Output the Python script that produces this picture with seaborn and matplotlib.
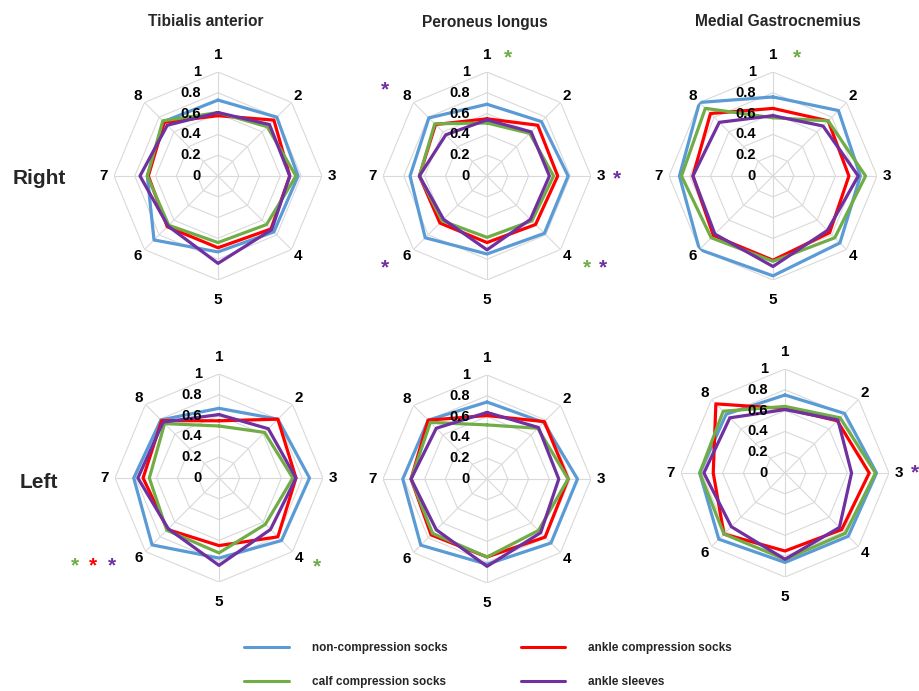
import numpy as np
import pandas as pd
import matplotlib
matplotlib.use("Agg")
import matplotlib.pyplot as plt
import matplotlib.transforms as mtransforms
from matplotlib.lines import Line2D
import seaborn as sns

sns.set_style("white")
plt.rcParams["font.family"] = ["Liberation Sans", "DejaVu Sans"]
plt.rcParams["font.weight"] = "bold"

# ---- data -----------------------------------------------------------------
directions = ["1", "2", "3", "4", "5", "6", "7", "8"]
conditions = ["non-compression socks", "ankle compression socks",
              "calf compression socks", "ankle sleeves"]
condition_colors = ["#5B9BD5", "#FF0000", "#70AD47", "#7030A0"]
muscles = ["Tibialis anterior", "Peroneus longus", "Medial Gastrocnemius"]
sides = ["Right", "Left"]
ring_values = [0.0, 0.2, 0.4, 0.6, 0.8, 1.0]
ring_labels = ["0", "0.2", "0.4", "0.6", "0.8", "1"]

# Tibialis anterior, right leg
ta_right_non = [0.73, 0.80, 0.77, 0.76, 0.73, 0.87, 0.68, 0.74]
ta_right_ankle = [0.58, 0.76, 0.69, 0.72, 0.69, 0.69, 0.67, 0.73]
ta_right_calf = [0.61, 0.67, 0.75, 0.66, 0.64, 0.67, 0.68, 0.75]
ta_right_sleeve = [0.61, 0.70, 0.69, 0.73, 0.84, 0.68, 0.75, 0.69]

# Peroneus longus, right leg
pl_right_non = [0.69, 0.74, 0.78, 0.78, 0.75, 0.84, 0.74, 0.79]
pl_right_ankle = [0.55, 0.69, 0.68, 0.66, 0.64, 0.64, 0.65, 0.70]
pl_right_calf = [0.51, 0.58, 0.64, 0.61, 0.59, 0.61, 0.65, 0.71]
pl_right_sleeve = [0.54, 0.60, 0.60, 0.59, 0.71, 0.59, 0.65, 0.56]

# Medial gastrocnemius, right leg
mg_right_non = [0.76, 0.89, 0.84, 0.91, 0.96, 1.00, 0.90, 1.00]
mg_right_ankle = [0.65, 0.75, 0.73, 0.77, 0.81, 0.81, 0.77, 0.85]
mg_right_calf = [0.56, 0.75, 0.89, 0.84, 0.82, 0.84, 0.88, 0.92]
mg_right_sleeve = [0.58, 0.68, 0.82, 0.74, 0.87, 0.79, 0.77, 0.73]

# Tibialis anterior, left leg
ta_left_non = [0.67, 0.80, 0.87, 0.85, 0.77, 0.91, 0.82, 0.79]
ta_left_ankle = [0.55, 0.80, 0.74, 0.80, 0.65, 0.70, 0.73, 0.78]
ta_left_calf = [0.50, 0.62, 0.71, 0.63, 0.72, 0.71, 0.67, 0.74]
ta_left_sleeve = [0.61, 0.67, 0.74, 0.70, 0.84, 0.69, 0.78, 0.76]

# Peroneus longus, left leg
pl_left_non = [0.74, 0.77, 0.87, 0.87, 0.82, 0.90, 0.81, 0.80]
pl_left_ankle = [0.61, 0.78, 0.78, 0.79, 0.75, 0.76, 0.73, 0.80]
pl_left_calf = [0.52, 0.69, 0.78, 0.70, 0.75, 0.74, 0.73, 0.77]
pl_left_sleeve = [0.64, 0.70, 0.69, 0.73, 0.84, 0.69, 0.73, 0.69]

# Medial gastrocnemius, left leg
mg_left_non = [0.75, 0.81, 0.88, 0.86, 0.86, 0.90, 0.82, 0.80]
mg_left_ankle = [0.62, 0.71, 0.81, 0.77, 0.75, 0.83, 0.69, 0.94]
mg_left_calf = [0.64, 0.75, 0.87, 0.82, 0.83, 0.83, 0.82, 0.84]
mg_left_sleeve = [0.61, 0.72, 0.64, 0.74, 0.83, 0.73, 0.78, 0.75]

panels = {
    ("Right", "Tibialis anterior"): [ta_right_non, ta_right_ankle, ta_right_calf, ta_right_sleeve],
    ("Right", "Peroneus longus"): [pl_right_non, pl_right_ankle, pl_right_calf, pl_right_sleeve],
    ("Right", "Medial Gastrocnemius"): [mg_right_non, mg_right_ankle, mg_right_calf, mg_right_sleeve],
    ("Left", "Tibialis anterior"): [ta_left_non, ta_left_ankle, ta_left_calf, ta_left_sleeve],
    ("Left", "Peroneus longus"): [pl_left_non, pl_left_ankle, pl_left_calf, pl_left_sleeve],
    ("Left", "Medial Gastrocnemius"): [mg_left_non, mg_left_ankle, mg_left_calf, mg_left_sleeve],
}

# significance markers: (x px, y px, condition index)
star_marks = [
    (508, 53, 2), (385, 85, 3), (617, 174, 3), (385, 263, 3),
    (587, 263, 2), (603, 263, 3),
    (797, 53, 2),
    (75, 561, 2), (93, 561, 1), (112, 561, 3), (317, 562, 2),
    (915, 468, 3),
]

# ---- layout ---------------------------------------------------------------
W, H = 920, 691
R = 104  # pixel radius of the outer ring
centers = {
    ("Right", "Tibialis anterior"): (218, 176),
    ("Right", "Peroneus longus"): (487, 176),
    ("Right", "Medial Gastrocnemius"): (773, 176),
    ("Left", "Tibialis anterior"): (219, 478),
    ("Left", "Peroneus longus"): (487, 479),
    ("Left", "Medial Gastrocnemius"): (785, 473),
}
label_radius = [1.16, 1.09, 1.10, 1.09, 1.19, 1.09, 1.10, 1.09]
grid_color = "#D9D9D9"


def fx(x):
    return x / W


def fy(y):
    return 1 - y / H


fig = plt.figure(figsize=(W / 100, H / 100), dpi=100)
palette = dict(zip(conditions, condition_colors))
theta = np.arange(8) * 2 * np.pi / 8
theta_closed = np.append(theta, 2 * np.pi)

for (side, muscle), series in panels.items():
    cx, cy = centers[(side, muscle)]
    ax = fig.add_axes([fx(cx - R), fy(cy + R), 2 * R / W, 2 * R / H],
                      projection="polar")
    ax.set_theta_zero_location("N")
    ax.set_theta_direction(-1)
    ax.patch.set_alpha(0)

    # octagonal grid rings and spokes
    for lvl in ring_values[1:]:
        ax.plot(theta_closed, [lvl] * 9, color=grid_color, lw=0.8, zorder=1)
    for t in theta:
        ax.plot([t, t], [0, 1], color=grid_color, lw=0.8, zorder=1)

    rows = []
    for cond, vals in zip(conditions, series):
        closed = list(vals) + [vals[0]]
        for t, v in zip(theta_closed, closed):
            rows.append({"condition": cond, "theta": t, "value": v})
    df = pd.DataFrame(rows)
    sns.lineplot(data=df, x="theta", y="value", hue="condition",
                 hue_order=conditions, palette=palette, sort=False,
                 estimator=None, lw=2.3, legend=False, ax=ax, zorder=3)

    ax.set_ylim(0, 1)
    ax.set_thetalim(0, 2 * np.pi)
    ax.grid(False)
    ax.spines["polar"].set_visible(False)
    ax.set_xticks([])
    ax.set_yticks([])
    ax.set_xlabel("")
    ax.set_ylabel("")

    # direction labels
    for t, lab, rl in zip(theta, directions, label_radius):
        ax.text(t, rl, lab, ha="center", va="center", fontsize=11,
                fontweight="bold", color="black", clip_on=False)

    # ring value labels, set just left of the first spoke
    trans = mtransforms.offset_copy(ax.transData, fig=fig, x=-17, y=0,
                                    units="dots")
    for lvl, lab in zip(ring_values, ring_labels):
        ax.text(0, lvl, lab, transform=trans, ha="right", va="center",
                fontsize=10.5, fontweight="bold", color="black", zorder=5)

# column titles
title_x = {"Tibialis anterior": 206, "Peroneus longus": 485,
           "Medial Gastrocnemius": 778}
for m in muscles:
    fig.text(fx(title_x[m]), fy(22), m, ha="center", va="center",
             fontsize=11.2, fontweight="bold")

# row labels
fig.text(fx(39), fy(178), "Right", ha="center", va="center", fontsize=15,
         fontweight="bold")
fig.text(fx(39), fy(483), "Left", ha="center", va="center", fontsize=15,
         fontweight="bold")

# significance asterisks
for x, y, ci in star_marks:
    fig.text(fx(x), fy(y + 5), "*", ha="center", va="center", fontsize=15,
             color=condition_colors[ci])

# legend
handles = [Line2D([], [], color=c, lw=2.2) for c in condition_colors]
order = [0, 2, 1, 3]
fig.legend([handles[i] for i in order], [conditions[i] for i in order],
           ncol=2, loc="center", bbox_to_anchor=(fx(488), fy(665)),
           frameon=False, handlelength=3.8, handletextpad=1.9,
           columnspacing=6.2, labelspacing=1.9,
           prop={"weight": "bold", "size": 8.5})

fig.savefig("out.png", dpi=100)
